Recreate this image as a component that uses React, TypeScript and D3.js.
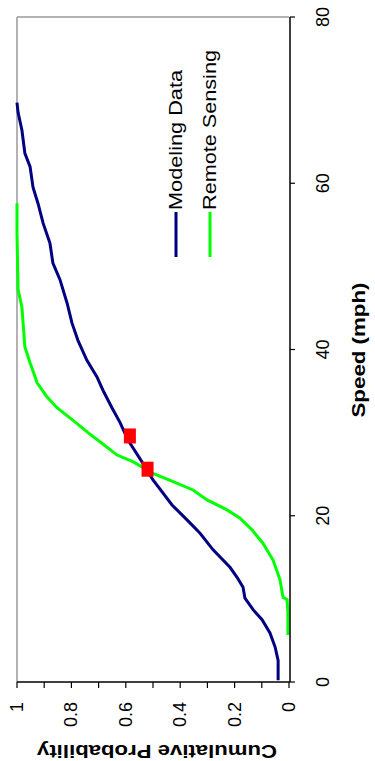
import React from "react";
import * as d3 from "d3";

// Modeling Data: speed (mph) and cumulative probability
const modelSpeed = [0.2, 2.6, 4.2, 5.9, 7.5, 8.7, 10.1, 11.4, 12.6, 13.8, 15.9, 17.9, 19.5, 21.3, 24.3, 26.3, 29.1, 31.2, 33.0, 35.1, 36.7, 38.7, 41.1, 43.2, 45.6, 48.4, 50.4, 52.8, 55.2, 57.6, 59.5, 62.0, 63.6, 66.4, 68.5, 69.7];
const modelProb = [0.04, 0.04, 0.051, 0.07, 0.099, 0.132, 0.162, 0.169, 0.191, 0.217, 0.279, 0.327, 0.375, 0.43, 0.5, 0.537, 0.592, 0.621, 0.651, 0.684, 0.706, 0.743, 0.776, 0.798, 0.816, 0.842, 0.868, 0.879, 0.904, 0.923, 0.941, 0.952, 0.971, 0.982, 0.996, 1.0];

// Remote Sensing
const remoteSpeed = [5.65, 8.3, 9.9, 10.2, 12.3, 14.7, 16.7, 18.3, 19.7, 20.7, 21.9, 23.1, 24.1, 25.1, 26.5, 27.3, 28.9, 30.0, 31.3, 33.0, 34.3, 36.0, 38.4, 40.3, 45.1, 47.2, 54.0, 57.6];
const remoteProb = [0.004, 0.004, 0.007, 0.022, 0.033, 0.059, 0.096, 0.136, 0.18, 0.228, 0.301, 0.353, 0.426, 0.5, 0.574, 0.632, 0.695, 0.739, 0.787, 0.853, 0.89, 0.926, 0.952, 0.971, 0.982, 0.996, 1.0, 1.0];

// Red markers
const markerSpeed = [29.6, 25.6];
const markerProb = [0.585, 0.52];

const speedTicks = [0, 20, 40, 60, 80];
const probLabelTicks = [1, 0.8, 0.6, 0.4, 0.2, 0];
const probMinorTicks = [1, 0.9, 0.8, 0.7, 0.6, 0.5, 0.4, 0.3, 0.2, 0.1, 0];
const seriesNames = ["Modeling Data", "Remote Sensing"];
const seriesColors = ["#000080", "#00FF00"];

const FONT = "'Liberation Sans', Arial, sans-serif";

export default function App() {
  const xP = d3.scaleLinear().domain([1, 0]).range([17, 289]);
  const yS = d3.scaleLinear().domain([0, 80]).range([682, 17]);

  const line = d3
    .line<[number, number]>()
    .x((d) => xP(d[1]))
    .y((d) => yS(d[0]));

  const modelPts = modelSpeed.map((s, i) => [s, modelProb[i]] as [number, number]);
  const remotePts = remoteSpeed.map((s, i) => [s, remoteProb[i]] as [number, number]);

  const left = xP(1);
  const right = xP(0);
  const top = yS(80);
  const bottom = yS(0);

  const legendX = [176, 210];
  const legendTextLen = [140, 160];

  return (
    <svg
      width={375}
      height={761}
      style={{ position: "absolute", left: 0, top: 0, background: "#fff" }}
      fontFamily={FONT}
    >
      <rect x={0} y={0} width={375} height={761} fill="#fff" />
      {/* frame */}
      <line x1={left} y1={top} x2={right} y2={top} stroke="#999" strokeWidth={1.5} />
      <line x1={left} y1={top} x2={left} y2={bottom} stroke="#999" strokeWidth={1.5} />

      {/* series */}
      <path d={line(remotePts) || ""} fill="none" stroke={seriesColors[1]} strokeWidth={3} />
      <path d={line(modelPts) || ""} fill="none" stroke={seriesColors[0]} strokeWidth={3} />

      {/* markers */}
      {markerSpeed.map((s, i) => (
        <rect
          key={i}
          x={xP(markerProb[i]) - 6}
          y={yS(s) - 7.5}
          width={12}
          height={15}
          fill="#FF0000"
        />
      ))}

      {/* speed axis (right) */}
      <line x1={right + 1} y1={top} x2={right + 1} y2={bottom} stroke="#000" strokeWidth={1.5} />
      {speedTicks.map((t) => (
        <g key={t}>
          <line x1={right + 1} y1={yS(t)} x2={right + 6} y2={yS(t)} stroke="#000" strokeWidth={1.2} />
          <text
            transform={`translate(329,${yS(t)}) rotate(-90)`}
            textAnchor="middle"
            fontSize={18}
            fill="#000"
          >
            {t}
          </text>
        </g>
      ))}

      {/* probability axis (bottom) */}
      <line x1={left} y1={bottom} x2={right + 1} y2={bottom} stroke="#000" strokeWidth={1.5} />
      {probMinorTicks.map((t) => (
        <line key={t} x1={xP(t)} y1={bottom} x2={xP(t)} y2={bottom + 6} stroke="#000" strokeWidth={1.2} />
      ))}
      {probLabelTicks.map((t) => (
        <text
          key={t}
          transform={`translate(${xP(t) + 6},702) rotate(-90)`}
          textAnchor="end"
          fontSize={18}
          fill="#000"
        >
          {String(t)}
        </text>
      ))}

      {/* axis titles */}
      <text
        transform="translate(365,350) rotate(-90)"
        textAnchor="middle"
        fontSize={18}
        fontWeight="bold"
        textLength={135}
        lengthAdjust="spacingAndGlyphs"
      >
        Speed (mph)
      </text>
      <text
        transform="translate(157,745) rotate(180)"
        textAnchor="middle"
        fontSize={18}
        fontWeight="bold"
        textLength={240}
        lengthAdjust="spacingAndGlyphs"
      >
        Cumulative Probability
      </text>

      {/* legend */}
      {seriesNames.map((n, i) => (
        <g key={n}>
          <line x1={legendX[i]} y1={212} x2={legendX[i]} y2={257} stroke={seriesColors[i]} strokeWidth={3} />
          <text
            transform={`translate(${legendX[i] + 5.5},210) rotate(-90)`}
            textAnchor="start"
            fontSize={18}
            textLength={legendTextLen[i]}
            lengthAdjust="spacingAndGlyphs"
          >
            {n}
          </text>
        </g>
      ))}
    </svg>
  );
}
